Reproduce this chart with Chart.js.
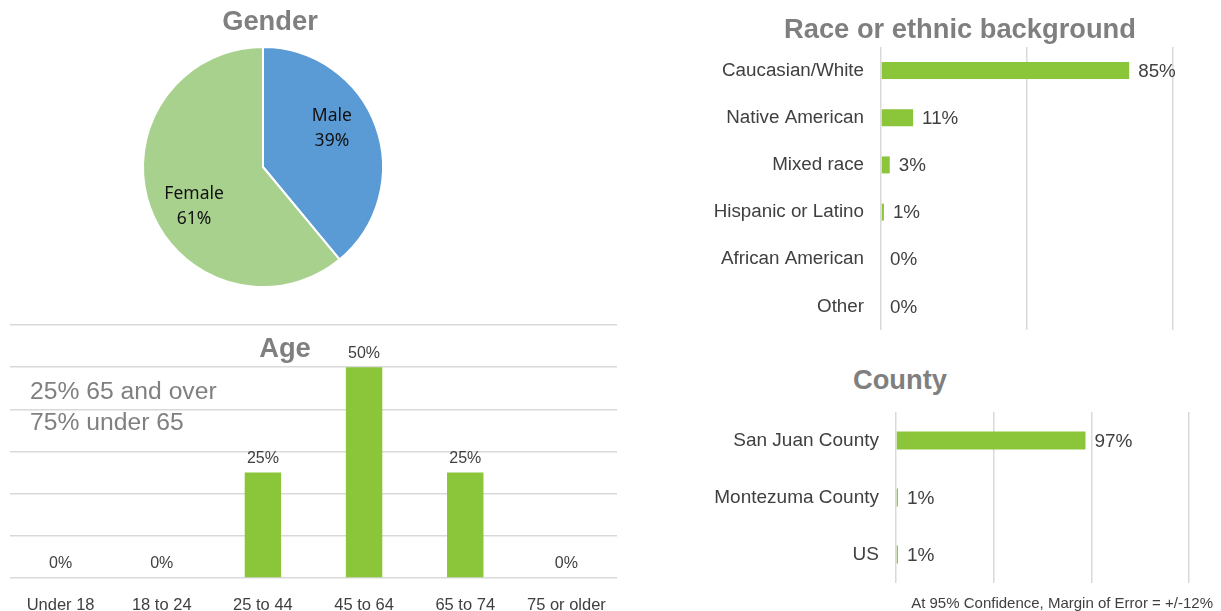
<!DOCTYPE html>
<html>
<head>
<meta charset="utf-8">
<script src="https://cdn.jsdelivr.net/npm/chart.js@4/dist/chart.umd.min.js"></script>
<style>
  html, body { margin: 0; padding: 0; background: #ffffff; }
  body { width: 1221px; height: 611px; position: relative; overflow: hidden; font-family: "Liberation Sans", Arial, sans-serif; }
  canvas { position: absolute; }
  .title { position: absolute; font-weight: bold; font-size: 27.3px; color: #7f7f7f; text-align: center; white-space: nowrap; height: 40px; line-height: 40px; }
  .note { position: absolute; font-size: 24.7px; color: #808080; line-height: 31px; white-space: nowrap; }
  .foot { position: absolute; font-size: 15px; color: #404040; text-align: right; line-height: 16px; white-space: nowrap; }
</style>
</head>
<body>
<canvas id="gender" width="540" height="300" style="left:0;top:0;"></canvas>
<canvas id="age" width="625" height="296" style="left:0;top:315px;"></canvas>
<canvas id="race" width="531" height="300" style="left:690px;top:40px;"></canvas>
<canvas id="county" width="531" height="195" style="left:690px;top:400px;"></canvas>

<div class="title" style="left:170px;width:200px;top:1px;">Gender</div>
<div class="title" style="left:185px;width:200px;top:328px;">Age</div>
<div class="title" style="left:760px;width:400px;top:9px;">Race or ethnic background</div>
<div class="title" style="left:800px;width:200px;top:360px;">County</div>
<div class="note" style="left:30px;top:375px;">25% 65 and over<br>75% under 65</div>
<div class="foot" style="left:850px;width:363px;top:595px;">At 95% Confidence, Margin of Error = +/-12%</div>

<script>
// ---------- DATA ----------
const genderLabels = ['Male', 'Female'];
const genderValues = [39, 61];

const ageLabels = ['Under 18', '18 to 24', '25 to 44', '45 to 64', '65 to 74', '75 or older'];
const ageValues = [0, 0, 25, 50, 25, 0];
const ageTickMax = 60;
const ageTickStep = 10;

const raceLabels = ['Caucasian/White', 'Native American', 'Mixed race', 'Hispanic or Latino', 'African American', 'Other'];
const raceValues = [85, 11, 3, 1, 0, 0];
const raceTickMax = 100;
const raceTickStep = 50;

const countyLabels = ['San Juan County', 'Montezuma County', 'US'];
const countyValues = [97, 1, 1];
const countyTickMax = 150;
const countyTickStep = 50;

// ---------- STYLE ----------
const FONT = '"Liberation Sans", Arial, sans-serif';
const GREEN = '#8BC53A';
const GRID = '#d9d9d9';
const TEXT = '#404040';

Chart.defaults.font.family = FONT;
Chart.defaults.animation = false;
Chart.defaults.responsive = false;
Chart.defaults.devicePixelRatio = 1;
Chart.defaults.plugins.legend.display = false;
Chart.defaults.plugins.tooltip.enabled = false;

// ---------- PIE ----------
const pieLabelPlugin = {
  id: 'pieLabels',
  afterDatasetsDraw(chart) {
    const ctx = chart.ctx;
    const meta = chart.getDatasetMeta(0);
    ctx.save();
    ctx.font = '17.5px "Noto Sans", "Open Sans", sans-serif';
    ctx.fillStyle = '#111';
    ctx.textAlign = 'center';
    ctx.textBaseline = 'middle';
    meta.data.forEach((arc, i) => {
      const p = arc.getProps(['x', 'y', 'startAngle', 'endAngle', 'outerRadius'], true);
      const mid = (p.startAngle + p.endAngle) / 2 - 0.17;
      const r = p.outerRadius * 0.66;
      const x = p.x + Math.cos(mid) * r;
      const y = p.y + Math.sin(mid) * r;
      ctx.fillText(genderLabels[i], x, y - 12);
      ctx.fillText(genderValues[i] + '%', x, y + 13);
    });
    ctx.restore();
  }
};

new Chart(document.getElementById('gender'), {
  type: 'pie',
  data: {
    labels: genderLabels,
    datasets: [{
      data: genderValues,
      backgroundColor: ['#5B9BD5', '#A9D18E'],
      borderColor: '#ffffff',
      borderWidth: 2
    }]
  },
  options: {
    layout: { padding: { left: 142, right: 156, top: 46, bottom: 12 } }
  },
  plugins: [pieLabelPlugin]
});

// ---------- VALUE LABELS ----------
const valueLabelPlugin = {
  id: 'valueLabels',
  afterDatasetsDraw(chart, args, opts) {
    const ctx = chart.ctx;
    const meta = chart.getDatasetMeta(0);
    const vals = chart.data.datasets[0].data;
    ctx.save();
    ctx.font = opts.size + 'px ' + FONT;
    ctx.fillStyle = TEXT;
    meta.data.forEach((bar, i) => {
      const t = vals[i] + '%';
      if (opts.horizontal) {
        ctx.textAlign = 'left';
        ctx.textBaseline = 'middle';
        ctx.fillText(t, bar.x + 9, bar.y + 1);
      } else {
        ctx.textAlign = 'center';
        ctx.textBaseline = 'bottom';
        ctx.fillText(t, bar.x, bar.y - 6);
      }
    });
    ctx.restore();
  }
};

// ---------- AGE ----------
new Chart(document.getElementById('age'), {
  type: 'bar',
  data: {
    labels: ageLabels,
    datasets: [{ data: ageValues, backgroundColor: GREEN, categoryPercentage: 1, barPercentage: 0.36 }]
  },
  options: {
    layout: { padding: { left: 10, right: 8, top: 10, bottom: 0 } },
    scales: {
      x: {
        grid: { display: false },
        border: { display: false },
        ticks: { color: TEXT, font: { size: 16.5 }, padding: 10, maxRotation: 0 },
        afterFit(s) { s.height = 33; s.paddingLeft = 0; s.paddingRight = 0; }
      },
      y: {
        min: 0, max: ageTickMax,
        ticks: { display: false, stepSize: ageTickStep },
        grid: { color: GRID, lineWidth: 1.5, drawTicks: false },
        border: { display: false },
        afterFit(s) { s.width = 0; s.paddingTop = 0; s.paddingBottom = 0; }
      }
    },
    plugins: { valueLabels: { size: 16, horizontal: false } }
  },
  plugins: [valueLabelPlugin]
});

// ---------- HORIZONTAL BARS ----------
function hbar(id, labels, values, max, step, yWidth, pad, barPct, fontSize) {
  return new Chart(document.getElementById(id), {
    type: 'bar',
    data: {
      labels: labels,
      datasets: [{ data: values, backgroundColor: GREEN, categoryPercentage: 1, barPercentage: barPct }]
    },
    options: {
      indexAxis: 'y',
      layout: { padding: pad },
      scales: {
        x: {
          min: 0, max: max,
          ticks: { display: false, stepSize: step },
          grid: { color: GRID, lineWidth: 1.5, drawTicks: false },
          border: { display: false },
          afterFit(s) { s.height = 0; s.paddingLeft = 0; s.paddingRight = 0; }
        },
        y: {
          grid: { display: false, drawTicks: false },
          border: { display: false },
          ticks: { color: TEXT, font: { size: fontSize }, padding: 17 },
          afterFit(s) { s.width = yWidth; s.paddingTop = 0; s.paddingBottom = 0; }
        }
      },
      plugins: { valueLabels: { size: fontSize, horizontal: true } }
    },
    plugins: [valueLabelPlugin]
  });
}

hbar('race', raceLabels, raceValues, raceTickMax, raceTickStep, 191,
     { left: 0, right: 48, top: 7, bottom: 10 }, 0.36, 18.8);
hbar('county', countyLabels, countyValues, countyTickMax, countyTickStep, 206,
     { left: 0, right: 32, top: 12, bottom: 12 }, 0.32, 19);
</script>
</body>
</html>
